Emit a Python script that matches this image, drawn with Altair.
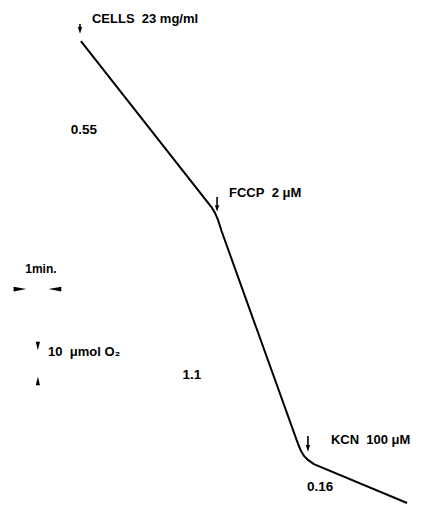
import altair as alt
import pandas as pd

# Oxygen trace: time (min) vs O2 (µmol)
trace_t = [3.17, 8.87, 9.00, 9.13, 9.30, 12.61, 12.74, 12.87, 13.04, 13.30, 17.35]
trace_o2 = [163.2, 103.6, 101.8, 99.3, 95.0, 19.3, 16.8, 15.0, 13.6, 12.1, -1.8]

# Addition arrows (time, top O2, tip O2)
add_t = [3.13, 9.09, 13.04]
add_top = [169.3, 107.5, 22.1]
add_tip = [165.7, 102.1, 16.4]
add_label = ["CELLS\u00a0 23 mg/ml", "FCCP\u00a0 2 μM", "KCN\u00a0 100 μM"]
add_label_t = [3.65, 9.61, 14.04]
add_label_o2 = [169.6, 107.5, 19.3]

# Rate labels
rate_label = ["0.55", "1.1", "0.16"]
rate_t = [3.30, 8.00, 13.57]
rate_o2 = [131.4, 43.9, 3.9]

# Scale bars
hbar_t = [0.52, 2.04]
hbar_o2 = [74.6, 74.6]
hbar_dir = ["right", "left"]
vbar_t = [1.30, 1.30]
vbar_o2 = [54.3, 41.8]
vbar_dir = ["down", "up"]

FONT = "Liberation Sans"
xs = alt.Scale(domain=[0, 408 / 23], nice=False, zero=False)
ys = alt.Scale(domain=[-8 / 2.8, 175], nice=False, zero=False)
X = lambda f: alt.X(f, type="quantitative", scale=xs, axis=None)
Y = lambda f: alt.Y(f, type="quantitative", scale=ys, axis=None)

trace = pd.DataFrame({"t": trace_t, "o2": trace_o2, "i": range(len(trace_t))})
line = alt.Chart(trace).mark_line(color="black", strokeWidth=2).encode(
    x=X("t"), y=Y("o2"), order="i:Q")

adds = pd.DataFrame({"t": add_t, "top": add_top, "tip": [v + 1.6 for v in add_tip],
                     "head": [v + 1.3 for v in add_tip]})
arr_stem = alt.Chart(adds).mark_rule(color="black", strokeWidth=1.6).encode(
    x=X("t"), y=Y("top"), y2="tip")
arr_head = alt.Chart(adds).mark_point(
    shape="M -0.65 -1 L 0.65 -1 L 0 1 Z", size=44, filled=True, color="black", opacity=1
).encode(x=X("t"), y=Y("head"))

labels = pd.DataFrame({"t": add_label_t, "o2": add_label_o2, "txt": add_label})
lab = alt.Chart(labels).mark_text(
    align="left", baseline="alphabetic", font=FONT, fontSize=13, fontWeight="bold",
    color="black"
).encode(x=X("t"), y=Y("o2"), text="txt")

rates = pd.DataFrame({"t": rate_t, "o2": rate_o2, "txt": rate_label})
rate = alt.Chart(rates).mark_text(
    align="center", baseline="middle", font=FONT, fontSize=13.5, fontWeight="bold",
    color="black"
).encode(x=X("t"), y=Y("o2"), text="txt")

hb = pd.DataFrame({"t": hbar_t, "o2": hbar_o2, "d": hbar_dir})
hbar = alt.Chart(hb).mark_point(filled=True, size=160, opacity=1, color="black").encode(
    x=X("t"), y=Y("o2"),
    shape=alt.Shape("d:N", scale=alt.Scale(
        domain=["right", "left"],
        range=["M -1 -0.38 L 1 0 L -1 0.38 Z", "M 1 -0.38 L -1 0 L 1 0.38 Z"]), legend=None))

vb = pd.DataFrame({"t": vbar_t, "o2": vbar_o2, "d": vbar_dir})
vbar = alt.Chart(vb).mark_point(filled=True, size=72, opacity=1, color="black").encode(
    x=X("t"), y=Y("o2"),
    shape=alt.Shape("d:N", scale=alt.Scale(
        domain=["down", "up"],
        range=["M -0.5 -1 L 0.5 -1 L 0 1 Z", "M -0.5 1 L 0.5 1 L 0 -1 Z"]), legend=None))

scale_t = [1.43, 1.74]
scale_o2 = [80.4, 52.1]
scale_txt = ["1min.", "10\u00a0 μmol O₂"]
st1 = alt.Chart(pd.DataFrame({"t": scale_t[:1], "o2": scale_o2[:1], "txt": scale_txt[:1]})).mark_text(
    align="center", baseline="alphabetic", font=FONT, fontSize=12, fontWeight="bold",
    color="black"
).encode(x=X("t"), y=Y("o2"), text="txt")
st2 = alt.Chart(pd.DataFrame({"t": scale_t[1:], "o2": scale_o2[1:], "txt": scale_txt[1:]})).mark_text(
    align="left", baseline="middle", font=FONT, fontSize=13, fontWeight="bold",
    color="black"
).encode(x=X("t"), y=Y("o2"), text="txt")

chart = alt.layer(line, arr_stem, arr_head, lab, rate, hbar, vbar, st1, st2).properties(
    width=408, height=498,
    autosize=alt.AutoSizeParams(type="none"),
    padding=0,
).configure_view(stroke=None).resolve_scale(shape="independent")

chart.save("out.html", embed_options={"renderer": "svg", "actions": False})
